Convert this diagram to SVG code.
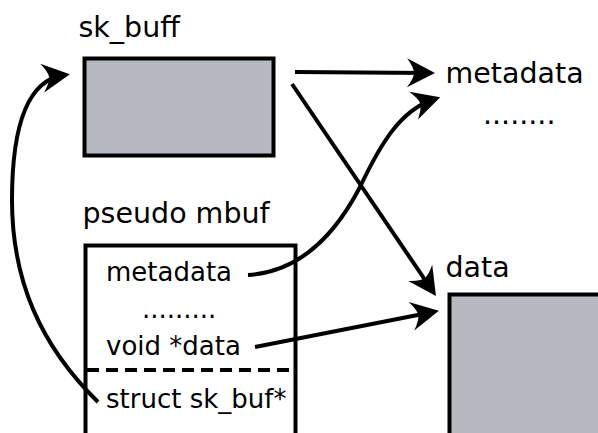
<svg xmlns="http://www.w3.org/2000/svg" width="598" height="433" viewBox="0 0 598 433">
<style>
.lbl{font-family:"DejaVu Sans","Liberation Sans",sans-serif;font-size:28.5px;fill:#000}
.in{font-family:"DejaVu Sans","Liberation Sans",sans-serif;font-size:26px;fill:#000}
.box{fill:#b6b9c0;stroke:#000;stroke-width:4}
.frame{fill:#fff;stroke:#000;stroke-width:4}
.conn{fill:none;stroke:#000;stroke-width:4;marker-end:url(#ah)}
.plain{fill:none;stroke:#000;stroke-width:4}
</style>
<defs>
<marker id="ah" markerUnits="userSpaceOnUse" viewBox="-30 -20 40 40" markerWidth="40" markerHeight="40" refX="0" refY="0" orient="auto">
<path d="M6,0 L-22,-14.5 Q-15,-5 -15,0 Q-15,5 -22,14.5 Z" fill="#000"/>
</marker>
</defs>
<rect width="598" height="433" fill="#fff"/>
<g id="sk_buff">
<text class="lbl" x="78.5" y="36.5">sk_buff</text>
<rect class="box" x="84.5" y="58.5" width="189" height="97"/>
</g>
<g id="metadata">
<text class="lbl" x="445.5" y="83">metadata</text>
<text class="lbl" x="483" y="124">........</text>
</g>
<g id="pseudo_mbuf">
<text class="lbl" x="82.5" y="223">pseudo mbuf</text>
<rect class="frame" x="85.5" y="245.5" width="210" height="200"/>
<line x1="87" y1="370" x2="294" y2="370" stroke="#000" stroke-width="4" stroke-dasharray="12,7"/>
<text class="in" x="106" y="281">metadata</text>
<text class="in" x="142" y="318">.........</text>
<text class="in" x="106" y="355">void *data</text>
<text class="in" x="106" y="408">struct sk_buf*</text>
</g>
<g id="data">
<text class="lbl" x="445.5" y="277">data</text>
<rect class="box" x="449.5" y="294.5" width="200" height="200"/>
</g>
<g id="connectors">
<path class="conn" d="M295,72 L429,73"/>
<path class="conn" d="M292,84 L432.6,291"/>
<path class="conn" d="M248,275 C300,272 335,235 360,187 C380,145 400,110 434.5,99"/>
<path class="conn" d="M255,347 L433,312"/>
<path class="conn" d="M98,402 C40,345 12,280 12,200 C12,125 28,80 64,75"/>
</g>
</svg>
